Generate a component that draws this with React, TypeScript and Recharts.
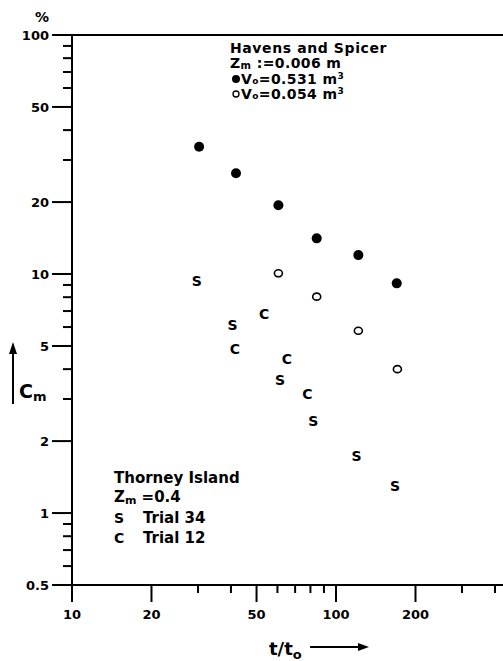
import React from "react";
import { ScatterChart, Scatter, XAxis, YAxis, ReferenceLine } from "recharts";

// Havens and Spicer, V0 = 0.531 m3 (filled dots)
const bigX = [30.3, 41.8, 60.5, 84.5, 121.5, 169.8];
const bigY = [34.1, 26.4, 19.4, 14.1, 12.0, 9.14];
// Havens and Spicer, V0 = 0.054 m3 (open dots)
const smallX = [60.5, 84.5, 121.5, 170.8];
const smallY = [10.07, 8.04, 5.79, 4.0];
// Thorney Island, Trial 34 (S)
const trial34X = [29.7, 40.6, 61.4, 82.0, 119.7, 167.3];
const trial34Y = [9.38, 6.16, 3.62, 2.45, 1.74, 1.3];
// Thorney Island, Trial 12 (C)
const trial12X = [53.4, 41.4, 65.1, 77.9];
const trial12Y = [6.85, 4.89, 4.44, 3.17];

const xTicks = [10, 20, 30, 40, 50, 60, 70, 80, 90, 100, 200, 300, 400];
const xMajor = [10, 20, 50, 100, 200];
const yTicks = [0.5, 0.6, 0.7, 0.8, 0.9, 1, 2, 3, 4, 5, 6, 7, 8, 9, 10, 20, 30, 40, 50, 60, 70, 80, 90, 100];
const yMajor = [0.5, 1, 2, 5, 10, 20, 50, 100];

const FONT = "'DejaVu Sans', sans-serif";

const zip = (xs: number[], ys: number[]) => xs.map((x, i) => ({ x, y: ys[i] }));

function XTick(props: any) {
  const { x, y, payload } = props;
  const major = xMajor.includes(payload.value);
  return (
    <g>
      <line x1={x} x2={x} y1={y} y2={y + (major ? 17 : 8)} stroke="#000" strokeWidth={2} />
      {major && (
        <text x={x} y={y + 34} textAnchor="middle" fontFamily={FONT} fontWeight="bold" fontSize={13} fill="#000">
          {payload.value}
        </text>
      )}
    </g>
  );
}

function YTick(props: any) {
  const { x, y, payload } = props;
  const major = yMajor.includes(payload.value);
  return (
    <g>
      <line x1={x} x2={x - (major ? 20 : 9)} y1={y} y2={y} stroke="#000" strokeWidth={2} />
      {major && (
        <text x={x - 23} y={y + 5} textAnchor="end" fontFamily={FONT} fontWeight="bold" fontSize={13} fill="#000">
          {payload.value}
        </text>
      )}
    </g>
  );
}

const FilledDot = (p: any) => <circle cx={p.cx} cy={p.cy} r={5} fill="#000" />;
const OpenDot = (p: any) => (
  <ellipse cx={p.cx} cy={p.cy} rx={4} ry={3.5} fill="#fff" stroke="#000" strokeWidth={1.6} />
);
const letter = (ch: string) => (p: any) => (
  <text x={p.cx} y={p.cy + 5.5} textAnchor="middle" fontFamily={FONT} fontWeight="bold" fontSize={14} fill="#000">
    {ch}
  </text>
);

export default function App() {
  const t = { fontFamily: FONT, fontWeight: "bold" as const, fill: "#000" };
  return (
    <div style={{ position: "absolute", left: 0, top: 0, width: 503, height: 661, background: "#fff" }}>
      <ScatterChart width={503} height={661} margin={{ top: 35, right: 0, bottom: 0, left: 0 }}>
        <XAxis
          type="number"
          dataKey="x"
          scale="log"
          domain={[10, 429]}
          allowDataOverflow
          ticks={xTicks}
          interval={0}
          tick={<XTick />}
          tickLine={false}
          tickSize={0}
          tickMargin={0}
          height={76}
          axisLine={{ stroke: "#000", strokeWidth: 2 }}
        />
        <YAxis
          type="number"
          dataKey="y"
          scale="log"
          domain={[0.5, 100]}
          allowDataOverflow
          ticks={yTicks}
          interval={0}
          tick={<YTick />}
          tickLine={false}
          tickSize={0}
          tickMargin={0}
          width={72}
          axisLine={{ stroke: "#000", strokeWidth: 2 }}
        />
        <ReferenceLine y={100} stroke="#000" strokeWidth={2} />
        <Scatter data={zip(bigX, bigY)} shape={FilledDot} isAnimationActive={false} />
        <Scatter data={zip(smallX, smallY)} shape={OpenDot} isAnimationActive={false} />
        <Scatter data={zip(trial34X, trial34Y)} shape={letter("S")} isAnimationActive={false} />
        <Scatter data={zip(trial12X, trial12Y)} shape={letter("C")} isAnimationActive={false} />
      </ScatterChart>
      <svg width={503} height={661} style={{ position: "absolute", left: 0, top: 0, pointerEvents: "none" }}>
        <text x={42} y={22} textAnchor="middle" fontSize={14} {...t}>%</text>

        <text x={230} y={53} fontSize={14} letterSpacing={0.6} {...t}>Havens and Spicer</text>
        <text x={230} y={68} fontSize={14} letterSpacing={0.4} {...t}>
          Z<tspan fontSize={10} dy={1}>m</tspan>
          <tspan dy={-1}> :=0.006 m</tspan>
        </text>
        <circle cx={236} cy={79} r={4} fill="#000" />
        <text x={241} y={84} fontSize={14} letterSpacing={0.4} {...t}>
          V<tspan fontSize={9}>o</tspan>=0.531  m<tspan fontSize={9} dy={-5}>3</tspan>
        </text>
        <circle cx={236} cy={94} r={3} fill="none" stroke="#000" strokeWidth={1.3} />
        <text x={241} y={99} fontSize={14} letterSpacing={0.4} {...t}>
          V<tspan fontSize={9}>o</tspan>=0.054  m<tspan fontSize={9} dy={-5}>3</tspan>
        </text>

        <text x={114} y={483} fontSize={15} {...t}>Thorney Island</text>
        <text x={114} y={502} fontSize={15} {...t}>
          Z<tspan fontSize={11} dy={2}>m</tspan>
          <tspan dy={-2}> =0.4</tspan>
        </text>
        <text x={114} y={523} fontSize={14} {...t}>S</text>
        <text x={143} y={523} fontSize={15} {...t}>Trial 34</text>
        <text x={114} y={543} fontSize={14} {...t}>C</text>
        <text x={143} y={543} fontSize={15} {...t}>Trial 12</text>

        {/* C_m label with upward arrow */}
        <line x1={13} x2={13} y1={352} y2={404} stroke="#000" strokeWidth={2} />
        <polygon points="13,342 9,354 17,354" fill="#000" />
        <text x={19} y={398} fontSize={19} {...t}>
          C<tspan fontSize={13} dy={3}>m</tspan>
        </text>

        {/* t/t0 label with arrow */}
        <text x={269} y={655} fontSize={18} {...t}>
          t/t<tspan fontSize={13} dy={4}>o</tspan>
        </text>
        <line x1={310} x2={360} y1={647} y2={647} stroke="#000" strokeWidth={2} />
        <polygon points="369,647 358,643 358,651" fill="#000" />
      </svg>
    </div>
  );
}
